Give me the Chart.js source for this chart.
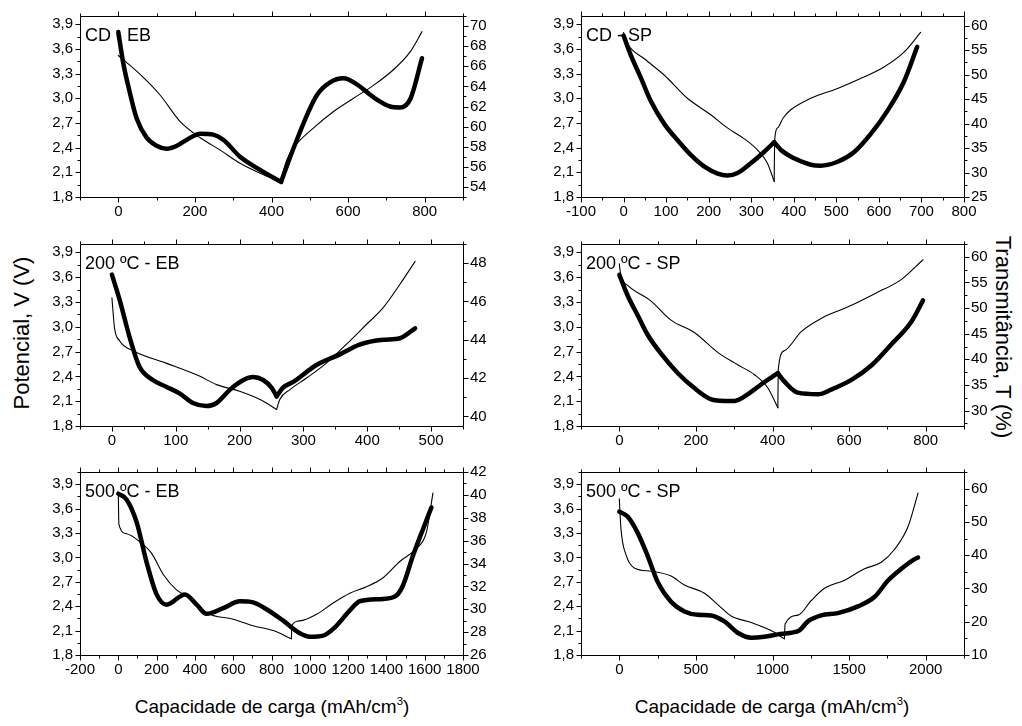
<!DOCTYPE html>
<html>
<head>
<meta charset="utf-8">
<script src="https://cdn.jsdelivr.net/npm/chart.js@4.4.1/dist/chart.umd.min.js"></script>
<style>
  body { margin: 0; width: 1022px; height: 726px; background: #fff; position: relative; overflow: hidden;
         font-family: "Liberation Sans", Arial, sans-serif; color: #000; }
  canvas { position: absolute; }
  .title { position: absolute; white-space: nowrap; line-height: 1; transform: translate(-50%, -50%); }
  .title sup { font-size: 0.6em; vertical-align: 0.75em; }
  #potTitle { left: 22px; top: 333px; font-size: 22px; transform: translate(-50%, -50%) rotate(-90deg); }
  #transTitle { left: 1003px; top: 337px; font-size: 22px; transform: translate(-50%, -50%) rotate(90deg); }
  #capLeft { left: 272px; top: 706px; font-size: 19px; }
  #capRight { left: 772px; top: 706px; font-size: 19px; }
</style>
</head>
<body>
<div class="title" id="potTitle">Potencial, V (V)</div>
<div class="title" id="transTitle">Transmitância, T (%)</div>
<div class="title" id="capLeft">Capacidade de carga (mAh/cm<sup>3</sup>)</div>
<div class="title" id="capRight">Capacidade de carga (mAh/cm<sup>3</sup>)</div>
<script>
// [capacidade mAh/cm3, valor] pairs, discharge branch then charge branch

// CD - EB
const cdEbPotDis = [[0,3.52],[57,3.29],[109,3.04],[161,2.72],[214,2.52],[266,2.37],[318,2.21],[370,2.09],[423,1.99]];
const cdEbPotChg = [[423,1.99],[440,2.25],[458,2.40],[510,2.64],[562,2.84],[614,3.0],[667,3.16],[719,3.35],[763,3.57],[793,3.81]];
const cdEbTransDis = [[0,69.4],[13,66.3],[30,63.4],[48,60.8],[74,58.9],[100,58.1],[126,57.8],[153,58.1],[179,58.7],[214,59.3],[248,59.2],[274,58.7],[318,57.0],[370,55.7],[425,54.5]];
const cdEbTransChg = [[425,54.5],[458,57.9],[518,63.1],[553,64.4],[588,64.8],[623,64.2],[667,62.9],[710,62.0],[736,61.9],[763,62.8],[793,66.8]];

// CD - SP
const cdSpPotDis = [[0,3.80],[10,3.66],[49,3.48],[96,3.28],[150,3.0],[205,2.80],[244,2.64],[283,2.51],[315,2.37],[338,2.21],[354,1.99]];
const cdSpPotChg = [[354,1.99],[355,2.49],[362,2.64],[375,2.76],[393,2.86],[440,3.0],[503,3.12],[557,3.24],[612,3.38],[659,3.56],[698,3.80]];
const cdSpTransDis = [[0,58.0],[17,54.0],[41,49.3],[64,44.6],[96,39.9],[127,36.6],[158,33.6],[190,31.2],[221,29.8],[244,29.4],[268,29.9],[299,31.9],[330,34.2],[354,36.2]];
const cdSpTransChg = [[354,36.2],[370,34.6],[401,32.9],[440,31.6],[463,31.4],[503,32.2],[542,34.2],[581,37.9],[620,42.6],[659,48.6],[690,55.7]];

// 200 ºC - EB
const eb200PotDis = [[0,3.35],[4,2.99],[12,2.83],[33,2.71],[85,2.56],[138,2.40],[164,2.30],[200,2.22],[232,2.12],[258,2.0]];
const eb200PotChg = [[258,2.0],[263,2.12],[279,2.24],[305,2.38],[336,2.56],[373,2.83],[399,3.03],[425,3.23],[451,3.51],[475,3.79]];
const eb200TransDis = [[0,47.4],[12,46.1],[28,44.1],[43,42.6],[64,41.9],[85,41.55],[106,41.2],[127,40.7],[148,40.54],[164,40.7],[185,41.4],[206,41.9],[221,42.06],[237,41.9],[250,41.5],[258,41.05]];
const eb200TransChg = [[258,41.05],[268,41.5],[284,41.8],[321,42.7],[357,43.24],[388,43.75],[425,44.0],[451,44.08],[475,44.6]];

// 200 ºC - SP
const sp200PotDis = [[0,3.76],[4,3.62],[22,3.50],[83,3.31],[135,3.08],[196,2.93],[257,2.69],[309,2.54],[353,2.42],[388,2.26],[414,2.02]];
const sp200PotChg = [[414,2.02],[415,2.48],[431,2.71],[475,2.94],[527,3.10],[597,3.24],[667,3.40],[736,3.57],[793,3.81]];
const sp200TransDis = [[0,56.5],[22,52.4],[48,48.6],[74,44.8],[109,41.1],[153,37.3],[196,34.4],[240,32.2],[274,31.9],[301,31.9],[336,33.2],[370,35.1],[414,37.3]];
const sp200TransChg = [[414,37.3],[431,35.7],[466,33.5],[519,33.2],[553,34.1],[606,36.0],[658,38.8],[710,42.9],[763,47.4],[793,51.5]];

// 500 ºC - EB
const eb500PotDis = [[0,3.79],[3,3.41],[43,3.29],[113,3.19],[174,3.05],[235,2.79],[304,2.60],[391,2.48],[461,2.32],[600,2.24],[704,2.16],[809,2.10],[904,2.0]];
const eb500PotChg = [[904,2.0],[906,2.16],[948,2.22],[1035,2.30],[1122,2.44],[1209,2.56],[1296,2.64],[1383,2.75],[1470,2.95],[1557,3.11],[1609,3.31],[1643,3.79]];
const eb500Trans = [[0,40.1],[43,39.6],[96,37.6],[148,34.1],[200,31.3],[252,30.4],[348,31.3],[409,30.4],[461,29.6],[548,30.1],[635,30.7],[704,30.6],[774,30.0],[861,29.0],[948,27.9],[1000,27.6],[1070,27.7],[1130,28.4],[1209,29.9],[1261,30.7],[1383,30.9],[1452,31.2],[1487,32.1],[1539,34.7],[1591,37.0],[1635,38.9]];

// 500 ºC - SP
const sp500PotDis = [[0,3.72],[11,3.35],[44,3.03],[98,2.87],[207,2.83],[338,2.77],[425,2.66],[556,2.56],[643,2.42],[730,2.28],[861,2.20],[991,2.10],[1078,2.0]];
const sp500PotChg = [[1078,2.0],[1082,2.18],[1166,2.29],[1253,2.47],[1340,2.62],[1471,2.72],[1601,2.86],[1710,2.94],[1797,3.10],[1885,3.38],[1950,3.79]];
const sp500Trans = [[0,53.1],[54,51.6],[120,46.7],[185,39.8],[251,31.9],[338,26.0],[425,23.1],[512,22.1],[599,21.9],[686,20.1],[773,16.7],[861,15.2],[948,15.5],[1035,16.2],[1122,16.7],[1176,17.4],[1231,20.1],[1318,21.9],[1427,22.6],[1558,24.6],[1667,27.5],[1754,32.4],[1841,35.9],[1928,38.8],[1950,39.3]];

// tick labels
const potTicks = [1.8, 2.1, 2.4, 2.7, 3.0, 3.3, 3.6, 3.9];
const cdEbCapTicks = [0, 200, 400, 600, 800];
const cdSpCapTicks = [-100, 0, 100, 200, 300, 400, 500, 600, 700, 800];
const eb200CapTicks = [0, 100, 200, 300, 400, 500];
const sp200CapTicks = [0, 200, 400, 600, 800];
const eb500CapTicks = [-200, 0, 200, 400, 600, 800, 1000, 1200, 1400, 1600, 1800];
const sp500CapTicks = [0, 500, 1000, 1500, 2000];
const cdEbTransTicks = [54, 56, 58, 60, 62, 64, 66, 68, 70];
const cdSpTransTicks = [25, 30, 35, 40, 45, 50, 55, 60];
const eb200TransTicks = [40, 42, 44, 46, 48];
const sp200TransTicks = [30, 35, 40, 45, 50, 55, 60];
const eb500TransTicks = [26, 28, 30, 32, 34, 36, 38, 40, 42];
const sp500TransTicks = [10, 20, 30, 40, 50, 60];

const FONT = '"Liberation Sans", Arial, sans-serif';
const PAD_L = 60, PAD_R = 50, PAD_T = 12, PAD_B = 32;

const panels = [
  { label: 'CD - EB', box: [80, 12, 463, 197], x: [-100, 900], xTicks: cdEbCapTicks, xMinor: 100,
    v: [1.8, 4.0], t: [53, 71], tTicks: cdEbTransTicks, tMinor: 1,
    pot: [cdEbPotDis, cdEbPotChg], trans: [cdEbTransDis, cdEbTransChg] },
  { label: 'CD - SP', box: [581, 12, 964, 197], x: [-100, 800], xTicks: cdSpCapTicks, xMinor: 50,
    v: [1.8, 4.0], t: [25, 62], tTicks: cdSpTransTicks, tMinor: 2.5,
    pot: [cdSpPotDis, cdSpPotChg], trans: [cdSpTransDis, cdSpTransChg] },
  { label: '200 ºC - EB', box: [80, 240, 463, 426], x: [-50, 550], xTicks: eb200CapTicks, xMinor: 50,
    v: [1.8, 4.0], t: [39.5, 49], tTicks: eb200TransTicks, tMinor: 1,
    pot: [eb200PotDis, eb200PotChg], trans: [eb200TransDis, eb200TransChg] },
  { label: '200 ºC - SP', box: [581, 240, 964, 426], x: [-100, 900], xTicks: sp200CapTicks, xMinor: 100,
    v: [1.8, 4.0], t: [27, 62.5], tTicks: sp200TransTicks, tMinor: 2.5,
    pot: [sp200PotDis, sp200PotChg], trans: [sp200TransDis, sp200TransChg] },
  { label: '500 ºC - EB', box: [80, 468, 463, 655], x: [-200, 1800], xTicks: eb500CapTicks, xMinor: 100,
    v: [1.8, 4.05], t: [26, 42], tTicks: eb500TransTicks, tMinor: 1,
    pot: [eb500PotDis, eb500PotChg], trans: [eb500Trans] },
  { label: '500 ºC - SP', box: [581, 468, 964, 655], x: [-250, 2250], xTicks: sp500CapTicks, xMinor: 250,
    v: [1.8, 4.05], t: [10, 65], tTicks: sp500TransTicks, tMinor: 5,
    pot: [sp500PotDis, sp500PotChg], trans: [sp500Trans] }
];

// box, outward ticks on all four sides and the panel name
const panelFrame = {
  id: 'panelFrame',
  beforeDatasetsDraw(chart, args, o) {
    const { ctx, chartArea: a } = chart;
    ctx.save();
    ctx.fillStyle = '#000';
    ctx.font = '18px ' + FONT;
    ctx.textBaseline = 'alphabetic';
    ctx.fillText(o.label, a.left + 5, a.top + 25);
    ctx.restore();
  },
  afterDraw(chart, args, o) {
    const { ctx, chartArea: a, scales } = chart;
    const marks = (scale, majors, minor, draw) => {
      const n0 = Math.ceil(scale.min / minor - 1e-6), n1 = Math.floor(scale.max / minor + 1e-6);
      for (let n = n0; n <= n1; n++) {
        const v = n * minor;
        const big = majors.some(m => Math.abs(m - v) < minor / 10);
        draw(Math.round(scale.getPixelForValue(v)) + 0.5, big ? 5 : 3);
      }
    };
    const l = a.left + 0.5, r = a.right + 0.5, t = a.top + 0.5, b = a.bottom + 0.5;
    ctx.save();
    ctx.strokeStyle = '#000';
    ctx.lineWidth = 1;
    ctx.beginPath();
    ctx.rect(l, t, r - l, b - t);
    marks(scales.x, o.xTicks, o.xMinor, (px, len) => {
      ctx.moveTo(px, b); ctx.lineTo(px, b + len);
      ctx.moveTo(px, t); ctx.lineTo(px, t - len);
    });
    marks(scales.v, potTicks, 0.15, (py, len) => {
      ctx.moveTo(l, py); ctx.lineTo(l - len, py);
    });
    marks(scales.t, o.tTicks, o.tMinor, (py, len) => {
      ctx.moveTo(r, py); ctx.lineTo(r + len, py);
    });
    ctx.stroke();
    ctx.restore();
  }
};

const tickFont = { family: FONT, size: 15 };

function makePanel(p) {
  const [L, T, R, B] = p.box;
  const w = R - L + PAD_L + PAD_R, h = B - T + PAD_T + PAD_B;
  const cv = document.createElement('canvas');
  cv.width = w; cv.height = h;
  cv.style.left = (L - PAD_L) + 'px';
  cv.style.top = (T - PAD_T) + 'px';
  cv.style.width = w + 'px';
  cv.style.height = h + 'px';
  document.body.appendChild(cv);

  const datasets = [];
  p.trans.forEach(seg => datasets.push({ data: seg, yAxisID: 't', borderWidth: 4.5 }));
  p.pot.forEach(seg => datasets.push({ data: seg, yAxisID: 'v', borderWidth: 1.1 }));

  const axis = (min, max, ticks, fmt, pos) => ({
    type: 'linear', position: pos, min, max,
    grid: { display: false, drawTicks: false },
    border: { display: false },
    ticks: { color: '#000', font: tickFont, padding: pos === 'bottom' ? 6 : 7,
             autoSkip: false, maxRotation: 0, minRotation: 0, callback: fmt },
    afterBuildTicks: s => { s.ticks = ticks.map(v => ({ value: v })); },
    afterFit: s => {
      if (pos === 'bottom') s.height = PAD_B;
      else s.width = pos === 'left' ? PAD_L : PAD_R;
    }
  });

  new Chart(cv, {
    type: 'line',
    data: { datasets },
    plugins: [panelFrame],
    options: {
      responsive: false,
      animation: false,
      devicePixelRatio: 1,
      layout: { padding: { top: PAD_T, left: 0, right: 0, bottom: 0 } },
      elements: {
        point: { radius: 0 },
        line: { borderColor: '#000', cubicInterpolationMode: 'monotone',
                borderCapStyle: 'round', borderJoinStyle: 'round', fill: false }
      },
      plugins: {
        legend: { display: false },
        tooltip: { enabled: false },
        panelFrame: { label: p.label, xTicks: p.xTicks, xMinor: p.xMinor, tTicks: p.tTicks, tMinor: p.tMinor }
      },
      scales: {
        x: axis(p.x[0], p.x[1], p.xTicks, v => String(v), 'bottom'),
        v: axis(p.v[0], p.v[1], potTicks, v => v.toFixed(1).replace('.', ','), 'left'),
        t: axis(p.t[0], p.t[1], p.tTicks, v => String(v), 'right')
      }
    }
  });
}

panels.forEach(makePanel);
</script>
</body>
</html>
